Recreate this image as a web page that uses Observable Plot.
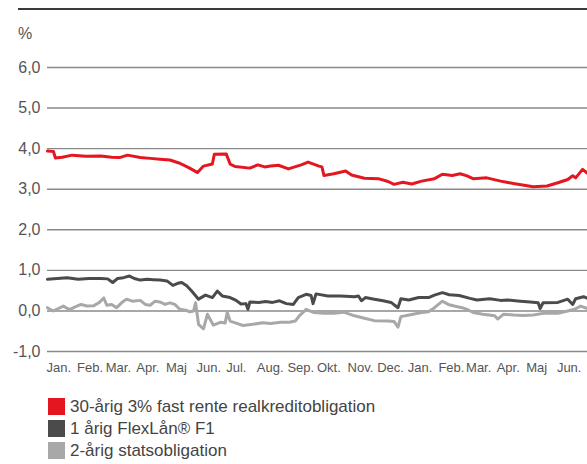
<!DOCTYPE html>
<html>
<head>
<meta charset="utf-8">
<script src="https://cdn.jsdelivr.net/npm/d3@7"></script>
<script src="https://cdn.jsdelivr.net/npm/@observablehq/plot@0.6"></script>
<style>
  html, body { margin: 0; padding: 0; background: #fff; }
  body { width: 587px; height: 464px; overflow: hidden; font-family: "Liberation Sans", Arial, sans-serif; }
  #wrap { position: relative; width: 587px; height: 464px; }
  #toprule { position: absolute; left: 18px; right: 0; top: 8px; height: 2px; background: #3a3a3a; }
  #unit { position: absolute; left: 18px; top: 25px; font-size: 16px; color: #555; }
  #chart { position: absolute; left: 0; top: 0; }
  #legend { position: absolute; left: 48px; top: 398px; font-size: 17px; color: #444; }
  .row { display: flex; align-items: center; height: 17px; margin-bottom: 5px; }
  .sw { width: 17px; height: 17px; margin-right: 5px; }
</style>
</head>
<body>
<div id="wrap">
  <div id="toprule"></div>
  <div id="unit">%</div>
  <div id="chart"></div>
  <div id="legend"></div>
</div>
<script>
const seriesNames = ["30-årig 3% fast rente realkreditobligation", "1 årig FlexLån® F1", "2-årig statsobligation"];
const seriesColors = ["#e4161f", "#4b4b4b", "#a8a8a8"];
const monthLabels = ["Jan.", "Feb.", "Mar.", "Apr.", "Maj", "Jun.", "Jul.", "Aug.", "Sep.", "Okt.", "Nov.", "Dec."];
const yTicks = [-1, 0, 1, 2, 3, 4, 5, 6];
const xStart = "2016-01-01";
const xEnd = "2017-07-01";

const fixed30 = [
  ["2016-01-01",3.94],["2016-01-07",3.93],["2016-01-09",3.77],["2016-01-16",3.79],["2016-01-26",3.84],
  ["2016-02-09",3.81],["2016-02-24",3.82],["2016-03-06",3.79],["2016-03-14",3.78],["2016-03-22",3.84],
  ["2016-04-04",3.78],["2016-04-14",3.76],["2016-04-24",3.74],["2016-05-04",3.72],["2016-05-14",3.64],
  ["2016-05-24",3.52],["2016-06-01",3.41],["2016-06-07",3.57],["2016-06-14",3.61],["2016-06-16",3.62],
  ["2016-06-18",3.86],["2016-06-30",3.87],["2016-07-04",3.62],["2016-07-09",3.56],["2016-07-24",3.52],
  ["2016-08-01",3.60],["2016-08-08",3.55],["2016-08-14",3.57],["2016-08-22",3.59],["2016-09-01",3.50],
  ["2016-09-14",3.60],["2016-09-21",3.67],["2016-10-02",3.57],["2016-10-05",3.55],["2016-10-07",3.34],
  ["2016-10-17",3.38],["2016-10-29",3.45],["2016-11-04",3.35],["2016-11-17",3.27],["2016-12-01",3.26],
  ["2016-12-11",3.19],["2016-12-17",3.12],["2016-12-26",3.17],["2017-01-04",3.13],["2017-01-14",3.20],
  ["2017-01-27",3.26],["2017-02-04",3.37],["2017-02-14",3.34],["2017-02-22",3.38],["2017-03-01",3.33],
  ["2017-03-07",3.26],["2017-03-21",3.28],["2017-04-04",3.20],["2017-04-17",3.14],["2017-05-07",3.06],
  ["2017-05-21",3.08],["2017-06-01",3.16],["2017-06-11",3.24],["2017-06-16",3.33],["2017-06-19",3.28],
  ["2017-06-26",3.49],["2017-07-01",3.39]
];

const flex1 = [
  ["2016-01-01",0.78],["2016-01-11",0.80],["2016-01-21",0.82],["2016-02-01",0.78],["2016-02-12",0.80],
  ["2016-02-24",0.80],["2016-03-02",0.79],["2016-03-07",0.70],["2016-03-12",0.80],["2016-03-18",0.82],
  ["2016-03-24",0.86],["2016-03-29",0.80],["2016-04-04",0.76],["2016-04-11",0.78],["2016-04-17",0.77],
  ["2016-04-24",0.76],["2016-05-01",0.74],["2016-05-07",0.63],["2016-05-12",0.68],["2016-05-16",0.70],
  ["2016-05-21",0.62],["2016-05-26",0.49],["2016-06-02",0.29],["2016-06-09",0.39],["2016-06-16",0.33],
  ["2016-06-21",0.49],["2016-06-26",0.37],["2016-07-04",0.33],["2016-07-10",0.26],["2016-07-15",0.17],
  ["2016-07-20",0.18],["2016-07-22",0.04],["2016-07-24",0.22],["2016-08-02",0.21],["2016-08-09",0.23],
  ["2016-08-16",0.21],["2016-08-23",0.25],["2016-08-30",0.18],["2016-09-06",0.16],["2016-09-11",0.33],
  ["2016-09-19",0.41],["2016-09-24",0.38],["2016-09-26",0.18],["2016-09-29",0.42],["2016-10-11",0.37],
  ["2016-10-24",0.37],["2016-11-07",0.35],["2016-11-11",0.37],["2016-11-14",0.25],["2016-11-18",0.33],
  ["2016-11-27",0.29],["2016-12-06",0.25],["2016-12-14",0.21],["2016-12-21",0.08],["2016-12-24",0.30],
  ["2017-01-01",0.27],["2017-01-11",0.33],["2017-01-21",0.33],["2017-01-27",0.39],["2017-02-04",0.45],
  ["2017-02-11",0.40],["2017-02-21",0.38],["2017-03-04",0.31],["2017-03-11",0.27],["2017-03-24",0.30],
  ["2017-04-04",0.26],["2017-04-11",0.27],["2017-04-24",0.24],["2017-05-04",0.22],["2017-05-12",0.20],
  ["2017-05-14",0.06],["2017-05-17",0.20],["2017-06-01",0.21],["2017-06-11",0.29],["2017-06-16",0.16],
  ["2017-06-19",0.30],["2017-06-27",0.35],["2017-07-01",0.31]
];

const gov2 = [
  ["2016-01-01",0.08],["2016-01-04",0.03],["2016-01-07",0.00],["2016-01-12",0.06],["2016-01-17",0.12],
  ["2016-01-21",0.06],["2016-01-24",0.04],["2016-01-29",0.10],["2016-02-04",0.16],["2016-02-10",0.12],
  ["2016-02-17",0.13],["2016-02-22",0.20],["2016-02-27",0.32],["2016-03-01",0.14],["2016-03-06",0.16],
  ["2016-03-11",0.08],["2016-03-16",0.20],["2016-03-21",0.29],["2016-03-27",0.24],["2016-04-04",0.26],
  ["2016-04-09",0.16],["2016-04-14",0.14],["2016-04-19",0.24],["2016-04-24",0.22],["2016-04-29",0.16],
  ["2016-05-04",0.20],["2016-05-09",0.16],["2016-05-14",0.04],["2016-05-20",0.02],["2016-05-24",-0.02],
  ["2016-05-28",0.00],["2016-05-30",0.20],["2016-06-02",-0.33],["2016-06-05",-0.40],["2016-06-07",-0.44],
  ["2016-06-11",-0.08],["2016-06-14",-0.22],["2016-06-17",-0.35],["2016-06-24",-0.28],["2016-06-29",-0.30],
  ["2016-07-01",-0.03],["2016-07-04",-0.25],["2016-07-10",-0.30],["2016-07-17",-0.36],["2016-07-27",-0.33],
  ["2016-08-06",-0.29],["2016-08-14",-0.31],["2016-08-24",-0.28],["2016-09-02",-0.28],["2016-09-08",-0.25],
  ["2016-09-12",-0.12],["2016-09-19",0.04],["2016-09-27",-0.04],["2016-10-07",-0.06],["2016-10-17",-0.06],
  ["2016-10-27",-0.03],["2016-11-07",-0.12],["2016-11-17",-0.18],["2016-11-27",-0.24],["2016-12-11",-0.25],
  ["2016-12-17",-0.26],["2016-12-21",-0.40],["2016-12-24",-0.14],["2017-01-04",-0.09],["2017-01-14",-0.04],
  ["2017-01-21",-0.02],["2017-01-27",0.08],["2017-02-04",0.24],["2017-02-10",0.16],["2017-02-16",0.12],
  ["2017-02-24",0.08],["2017-03-01",0.04],["2017-03-07",-0.04],["2017-03-17",-0.08],["2017-03-29",-0.12],
  ["2017-04-01",-0.20],["2017-04-07",-0.08],["2017-04-17",-0.10],["2017-04-27",-0.11],["2017-05-07",-0.10],
  ["2017-05-17",-0.06],["2017-06-01",-0.06],["2017-06-11",0.00],["2017-06-18",0.04],["2017-06-24",0.12],
  ["2017-07-01",0.06]
];

const toRows = (arr) => arr.map(([d, v]) => ({date: new Date(d), value: v}));

const chart = Plot.plot({
  width: 587,
  height: 385,
  marginLeft: 47,
  marginRight: 0,
  marginTop: 67,
  marginBottom: 34,
  style: {fontFamily: "'Liberation Sans', Arial, sans-serif", color: "#555", background: "transparent"},
  x: {type: "utc", domain: [new Date(xStart), new Date(xEnd)]},
  y: {domain: [-1, 6]},
  marks: [
    Plot.gridY(yTicks, {stroke: "#8a8a8a", strokeOpacity: 1, strokeWidth: 1.4}),
    Plot.axisY(yTicks, {
      tickSize: 0, tickPadding: 7, fontSize: 16, label: null,
      tickFormat: d => d.toFixed(1).replace(".", ",")
    }),
    Plot.axisX(d3.utcMonth.range(new Date(xStart), new Date(xEnd)), {
      tickSize: 0, tickPadding: 11, fontSize: 13, label: null, textAnchor: "start", dx: -1,
      tickFormat: d => monthLabels[d.getUTCMonth()]
    }),
    Plot.line(toRows(gov2), {x: "date", y: "value", stroke: seriesColors[2], strokeWidth: 3, curve: "linear"}),
    Plot.line(toRows(flex1), {x: "date", y: "value", stroke: seriesColors[1], strokeWidth: 3, curve: "linear"}),
    Plot.line(toRows(fixed30), {x: "date", y: "value", stroke: seriesColors[0], strokeWidth: 3, curve: "linear"})
  ]
});
document.getElementById("chart").appendChild(chart);

const legend = document.getElementById("legend");
seriesNames.forEach((name, i) => {
  const row = document.createElement("div");
  row.className = "row";
  const sw = document.createElement("div");
  sw.className = "sw";
  sw.style.background = seriesColors[i];
  const label = document.createElement("span");
  label.textContent = name;
  row.appendChild(sw);
  row.appendChild(label);
  legend.appendChild(row);
});
</script>
</body>
</html>
